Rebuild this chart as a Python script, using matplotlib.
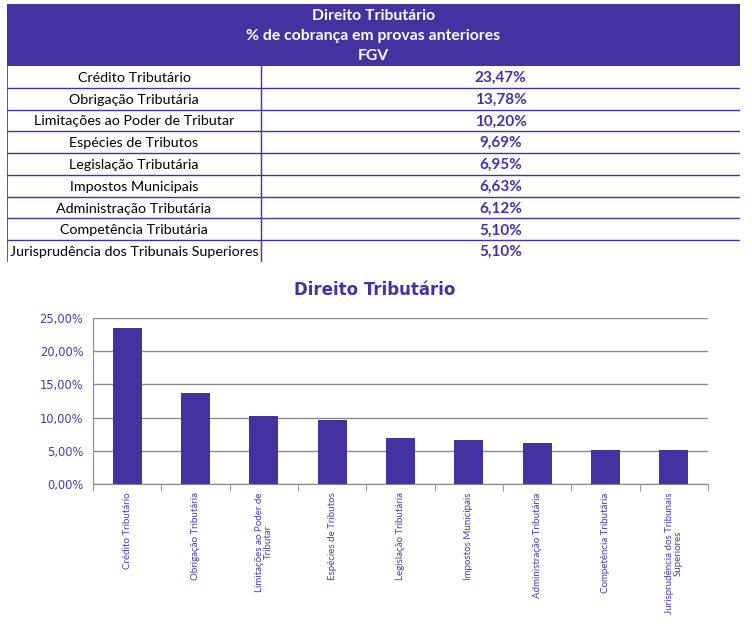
import matplotlib.pyplot as plt
import numpy as np
from matplotlib.ticker import FuncFormatter, FixedLocator

categorias = ["Crédito Tributário", "Obrigação Tributária", "Limitações ao Poder de Tributar",
              "Espécies de Tributos", "Legislação Tributária", "Impostos Municipais",
              "Administração Tributária", "Competência Tributária",
              "Jurisprudência dos Tribunais Superiores"]
rotulos_eixo = ["Crédito Tributário", "Obrigação Tributária", "Limitações ao Poder de\nTributar",
                "Espécies de Tributos", "Legislação Tributária", "Impostos Municipais",
                "Administração Tributária", "Competência Tributária",
                "Jurisprudência dos Tribunais\nSuperiores"]
percentuais = [23.47, 13.78, 10.20, 9.69, 6.95, 6.63, 6.12, 5.10, 5.10]
cabecalho = ["Direito Tributário", "% de cobrança em provas anteriores", "FGV"]

roxo = "#4333a1"
W, H = 752, 626
plt.rcParams['font.family'] = ['Lato', 'DejaVu Sans']

fig = plt.figure(figsize=(W / 100, H / 100), dpi=100)

# tabela (em pixels)
tx0, tx1, ty0, ty1 = 7, 740, 4, 262
tab = fig.add_axes([tx0 / W, 1 - ty1 / H, (tx1 - tx0) / W, (ty1 - ty0) / H])
tab.set_xlim(0, tx1 - tx0)
tab.set_ylim(ty1 - ty0, 0)
tab.axis("off")
hh = 62
tab.add_patch(plt.Rectangle((0, 0), tx1 - tx0, hh, color=roxo, lw=0))
for i, t in enumerate(cabecalho):
    tab.text((tx1 - tx0) / 2, 12.5 + i * 19.7, t, color="white", fontsize=11.3, weight="bold",
             ha="center", va="center")
rh = (ty1 - ty0 - hh) / len(categorias)
xdiv = 261 - tx0
for i, (c, v) in enumerate(zip(categorias, percentuais)):
    yc = hh + (i + 0.5) * rh
    tab.text(xdiv / 2, yc + 1, c, fontsize=10.3, color="black", ha="center", va="center")
    tab.text((xdiv + tx1 - tx0) / 2, yc + 1, f"{v:.2f}%".replace(".", ","), fontsize=11,
             color=roxo, weight="bold", ha="center", va="center")
    if i < len(categorias) - 1:
        tab.axhline(hh + (i + 1) * rh, color=roxo, lw=1)
tab.plot([0, 0], [hh, ty1 - ty0], color=roxo, lw=1.2)
tab.plot([xdiv, xdiv], [hh, ty1 - ty0], color=roxo, lw=1)

# grafico
ax = fig.add_axes([93 / W, 1 - 484 / H, (708 - 93) / W, (484 - 318) / H])
x = np.arange(len(categorias))
ax.bar(x, percentuais, width=0.42, color=roxo, zorder=3)
ax.set_xlim(-0.5, len(categorias) - 0.5)
ax.set_ylim(0, 25)
ax.set_yticks(np.arange(0, 26, 5))
ax.grid(axis="y", color="#8a8a8a", lw=1, zorder=0)
ax.set_yticklabels([f"{v:.2f}%".replace(".", ",") for v in np.arange(0, 26, 5)],
                   family="DejaVu Sans", fontsize=8.3, color="#4a3ca8")
ax.tick_params(axis="y", length=0, pad=7)
ax.set_xticks(x)
ax.set_xticklabels(rotulos_eixo, rotation=90, fontsize=7.0, color="#4a3ca8",
                   va="top", ha="center", multialignment="center", linespacing=1.0)
ax.tick_params(axis="x", which="major", length=0, pad=6)
ax.xaxis.set_minor_locator(FixedLocator(np.arange(-0.5, len(categorias), 1)))
ax.tick_params(axis="x", which="minor", length=5, color="#8a8a8a", direction="out")
for s in ["top", "right"]:
    ax.spines[s].set_visible(False)
for s in ["left", "bottom"]:
    ax.spines[s].set_color("#8a8a8a")
fig.text(375 / W, 1 - 290 / H, "Direito Tributário", fontsize=12, weight="bold",
         family="DejaVu Sans", color=roxo, ha="center", va="center")

fig.savefig("out.png", dpi=100)
